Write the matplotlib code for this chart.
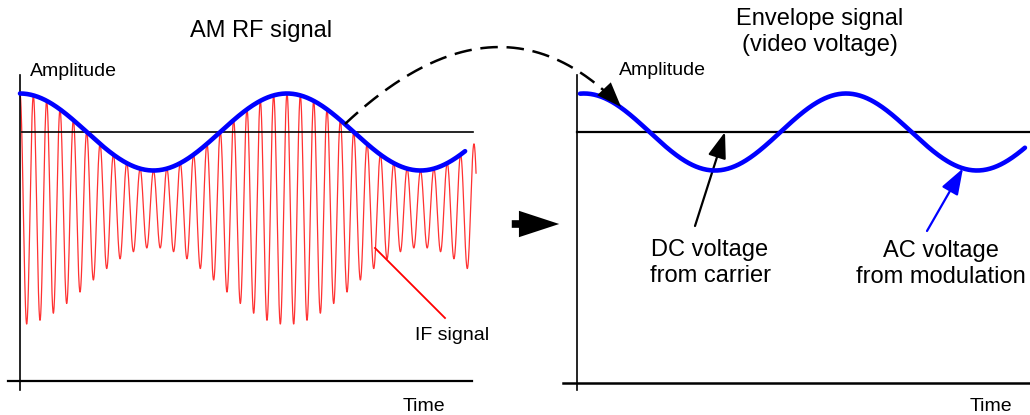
import numpy as np
import matplotlib.pyplot as plt
from matplotlib.patches import FancyArrowPatch

plt.rcParams['font.family'] = ['Liberation Sans', 'DejaVu Sans']

# signal parameters
carrier_per_mod = 20      # carrier cycles per modulation period
mod_depth = 0.5           # envelope swing relative to carrier amplitude
dc_level = 1.0            # carrier (DC after detection)
rf_span = (0.0, 1.708)    # modulation periods covered by the RF trace
env_left_span = (0.0, 1.667)
env_right_span = (-0.015, 1.683)

titles = ["AM RF signal", "Envelope signal\n(video voltage)"]
ylabels = ["Amplitude", "Amplitude"]
xlabels = ["Time", "Time"]

W, H = 1030, 415
fig = plt.figure(figsize=(W / 100, H / 100), dpi=100)

# pixel <-> data helpers (layout only)
ZERO = 209.0
SCALE = 77.0
def a_of(py):
    return (ZERO - py) / SCALE

def fx(px):
    return px / W

def fy(py):
    return 1 - py / H

ylim = (a_of(H), a_of(0))

ax1 = fig.add_axes([0, 0, 515 / W, 1])
ax1.set_xlim((0 - 20) / 267, (515 - 20) / 267)
ax1.set_ylim(*ylim)
ax2 = fig.add_axes([515 / W, 0, 515 / W, 1])
ax2.set_xlim((515 - 584) / 262, (1030 - 584) / 262)
ax2.set_ylim(*ylim)
for ax in (ax1, ax2):
    ax.set_axis_off()

def envelope(t):
    return dc_level + mod_depth * dc_level * np.cos(2 * np.pi * t)

# left panel: RF signal with envelope
t = np.linspace(rf_span[0], rf_span[1], 6000)
rf = envelope(t) * np.cos(2 * np.pi * carrier_per_mod * t)
ax1.plot(t, rf, color='#ff1a1a', lw=0.9, alpha=0.9)
te = np.linspace(*env_left_span, 500)
ax1.plot(te, envelope(te), color='#0000ff', lw=3.3, solid_capstyle='round', zorder=4)
ax1.plot([(22 - 20) / 267, (473 - 20) / 267], [dc_level, dc_level], color='black', lw=1.2, zorder=3)
ax1.plot([0, 0], [a_of(390), a_of(75)], color='black', lw=1.2)
ax1.plot([(8 - 20) / 267, (472 - 20) / 267], [a_of(381), a_of(381)], color='black', lw=1.6)

# right panel: detected envelope
tr = np.linspace(*env_right_span, 500)
ax2.plot(tr, envelope(tr), color='#0000ff', lw=3.3, solid_capstyle='round', zorder=4)
ax2.plot([(577 - 584) / 262, (1030 - 584) / 262], [dc_level, dc_level], color='black', lw=1.6, zorder=3)
ax2.plot([(577 - 584) / 262] * 2, [a_of(390), a_of(75)], color='black', lw=1.2)
ax2.plot([(563 - 584) / 262, (1030 - 584) / 262], [a_of(383), a_of(383)], color='black', lw=1.8)

# texts (va='baseline' on multi-line text aligns the last line)
big = 17
small = 14
ls = 1.22
fig.text(fx(261), fy(37), titles[0], ha='center', va='baseline', fontsize=big)
fig.text(fx(820), fy(51), titles[1], ha='center', va='baseline', fontsize=big,
         multialignment='center', linespacing=ls)
fig.text(fx(30), fy(76), ylabels[0], ha='left', va='baseline', fontsize=small)
fig.text(fx(619), fy(75), ylabels[1], ha='left', va='baseline', fontsize=small)
fig.text(fx(403), fy(411), xlabels[0], ha='left', va='baseline', fontsize=small)
fig.text(fx(970), fy(411), xlabels[1], ha='left', va='baseline', fontsize=small)
fig.text(fx(415), fy(340), "IF signal", ha='left', va='baseline', fontsize=small)
fig.text(fx(710), fy(282), "DC voltage\nfrom carrier", ha='center', va='baseline',
         fontsize=big, multialignment='center', linespacing=ls)
fig.text(fx(941), fy(283), "AC voltage\nfrom modulation", ha='center', va='baseline',
         fontsize=big, multialignment='center', linespacing=ls)

# IF pointer line
fig.add_artist(plt.Line2D([fx(375), fx(445)], [fy(248), fy(318)], color='#ff0000', lw=1.3))

# DC arrow
t_dc = (725 - 584) / 262
ax2.annotate('', xy=(t_dc, dc_level), xycoords='data',
             xytext=(fx(695), fy(226)), textcoords='figure fraction',
             arrowprops=dict(arrowstyle='-|>,head_length=0.8,head_width=0.28',
                             color='black', lw=1.6, mutation_scale=20,
                             shrinkA=0, shrinkB=0))
# AC arrow
t_ac = (963 - 584) / 262
ax2.annotate('', xy=(t_ac, envelope(t_ac)), xycoords='data',
             xytext=(fx(927), fy(231)), textcoords='figure fraction',
             arrowprops=dict(arrowstyle='-|>,head_length=0.8,head_width=0.28',
                             color='#0000ff', lw=1.6, mutation_scale=20,
                             shrinkA=0, shrinkB=0))

# dashed curved arrow from RF envelope to detected envelope (quadratic curve in pixels)
S = np.array([345.0, 124.0])
C = np.array([500.0, -22.0])
E = np.array([623.0, 109.0])
s = np.linspace(0, 0.93, 200)[:, None]
curve = (1 - s) ** 2 * S + 2 * (1 - s) * s * C + s ** 2 * E
fig.add_artist(plt.Line2D(fx(curve[:, 0]), fy(curve[:, 1]), color='black', lw=1.8,
                          linestyle=(0, (7, 3.5)), zorder=5))
d = (E - C) / np.hypot(*(E - C))
tail = E - 22 * d
fig.add_artist(FancyArrowPatch((fx(tail[0]), fy(tail[1])), (fx(E[0]), fy(E[1])),
                               transform=fig.transFigure,
                               arrowstyle='simple,head_length=1.0,head_width=0.75,tail_width=0.1',
                               mutation_scale=18, color='black', lw=0, zorder=6))

# block arrow between panels
fig.add_artist(FancyArrowPatch((fx(509), fy(224)), (fx(562), fy(224)),
                               transform=fig.transFigure,
                               arrowstyle='simple,head_length=2.9,head_width=1.9,tail_width=0.55',
                               mutation_scale=10, color='black', lw=0))

fig.savefig('out.png', dpi=100)
